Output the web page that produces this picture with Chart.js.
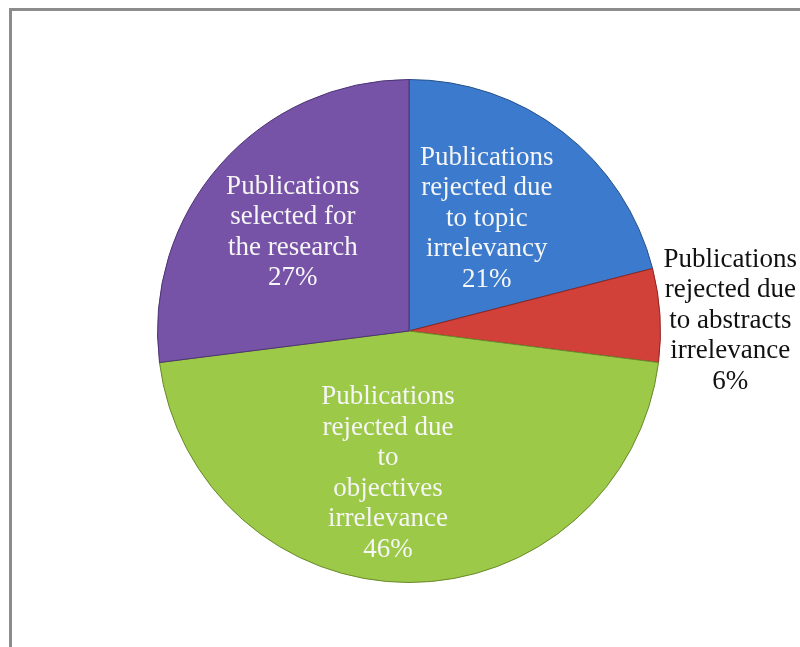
<!DOCTYPE html>
<html>
<head>
<meta charset="utf-8">
<title>Publications screening</title>
<script src="https://cdn.jsdelivr.net/npm/chart.js@4.4.1/dist/chart.umd.min.js"></script>
<style>
    html, body { margin: 0; padding: 0; background: #ffffff; }
    canvas { display: block; }
</style>
</head>
<body>
<canvas id="pubChart" width="800" height="647"></canvas>
<script>
// Categories (already wrapped into lines) and their shares in %
const categorias = [
    ['Publications', 'rejected due', 'to topic', 'irrelevancy'],
    ['Publications', 'rejected due', 'to abstracts', 'irrelevance'],
    ['Publications', 'rejected due', 'to', 'objectives', 'irrelevance'],
    ['Publications', 'selected for', 'the research']
];
const porcentajes = [21, 6, 46, 27];

// Colores de las porciones
const colores = ['#3b7acc', '#d2403a', '#9cc948', '#7753a8'];
const bordes = ['#24508a', '#8e2622', '#6a8a2c', '#4c3374'];

// Donde va cada etiqueta: fraccion del radio + ajuste fino en px
const etiquetaRadio = [0.55, 1.28, 0.567, 0.605];
const etiquetaAjuste = [[-7, -3], [0, 10], [-21, 0], [-2, 2]];
const etiquetaColor = ['#f6f6f6', '#111111', '#f6f6f6', '#f6f6f6'];

// Marco gris de fondo (solo arriba e izquierda)
const marcoPlugin = {
    id: 'marco',
    beforeDraw(chart) {
        const ctx = chart.ctx;
        ctx.save();
        ctx.fillStyle = '#ffffff';
        ctx.fillRect(0, 0, chart.width, chart.height);
        ctx.strokeStyle = '#8c8c8c';
        ctx.lineWidth = 3;
        ctx.beginPath();
        ctx.moveTo(10.5, chart.height);
        ctx.lineTo(10.5, 9.5);
        ctx.lineTo(chart.width, 9.5);
        ctx.stroke();
        ctx.restore();
    }
};

// Etiquetas de texto de cada porcion
const etiquetasPlugin = {
    id: 'etiquetas',
    afterDatasetsDraw(chart) {
        const ctx = chart.ctx;
        const meta = chart.getDatasetMeta(0);
        ctx.save();
        ctx.font = '27px "Liberation Serif", "Times New Roman", serif';
        ctx.textAlign = 'center';
        ctx.textBaseline = 'middle';
        const alto = 30.5;

        meta.data.forEach((arc, i) => {
            const p = arc.getProps(['x', 'y', 'startAngle', 'endAngle', 'outerRadius'], true);
            const medio = (p.startAngle + p.endAngle) / 2;
            const r = p.outerRadius * etiquetaRadio[i];
            const cx = p.x + Math.cos(medio) * r + etiquetaAjuste[i][0];
            const cy = p.y + Math.sin(medio) * r + etiquetaAjuste[i][1];

            const lineas = categorias[i].concat([porcentajes[i] + '%']);
            const inicio = cy - (lineas.length - 1) * alto / 2;
            ctx.fillStyle = etiquetaColor[i];
            lineas.forEach((linea, j) => {
                ctx.fillText(linea, cx, inicio + j * alto);
            });
        });
        ctx.restore();
    }
};

const ctx = document.getElementById('pubChart').getContext('2d');

new Chart(ctx, {
    type: 'pie',
    data: {
        labels: categorias.map(l => l.join(' ')),
        datasets: [{
            data: porcentajes,
            backgroundColor: colores,
            borderColor: bordes,
            borderWidth: 1
        }]
    },
    options: {
        responsive: false,
        animation: false,
        devicePixelRatio: 1,
        layout: {
            padding: { left: 157, right: 139, top: 79, bottom: 64 }
        },
        plugins: {
            legend: { display: false },
            tooltip: { enabled: false }
        }
    },
    plugins: [marcoPlugin, etiquetasPlugin]
});
</script>
</body>
</html>
